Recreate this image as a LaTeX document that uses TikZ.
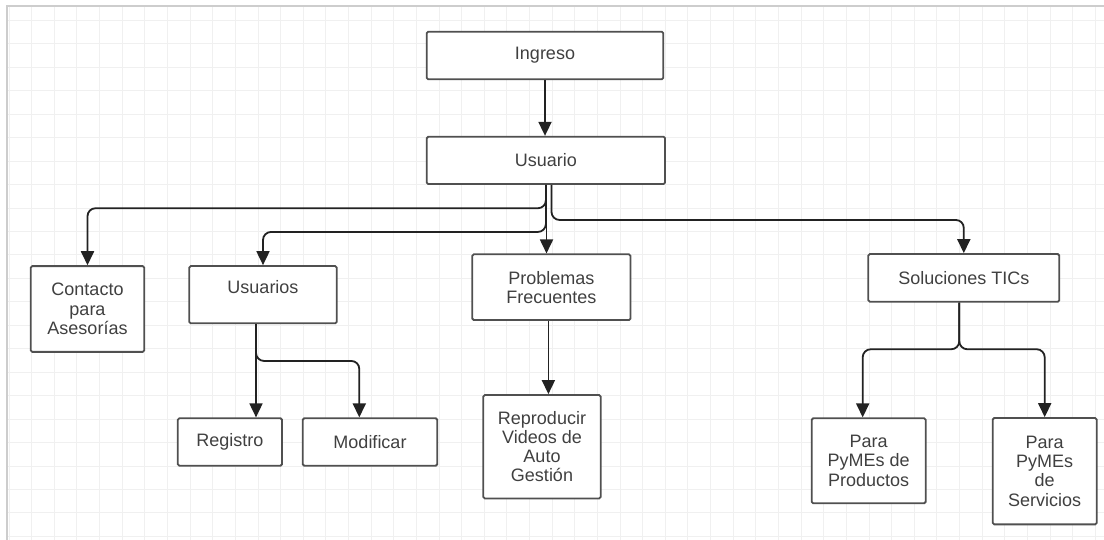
\documentclass[tikz,border=0pt]{standalone}
\usepackage{fontspec}
\setmainfont{Liberation Sans}
\usetikzlibrary{arrows.meta,calc}

\definecolor{gridc}{HTML}{F0F0F0}
\definecolor{framec}{HTML}{CDCDCD}
\definecolor{boxc}{HTML}{505050}
\definecolor{txtc}{HTML}{404040}
\definecolor{linec}{HTML}{222222}

\newcommand{\boxfont}{\fontsize{18}{19.2}\selectfont}

\tikzset{
  gridline/.style={draw=gridc, line width=1pt},
  frameline/.style={draw=framec, line width=2pt},
  box/.style={draw=boxc, line width=1.8pt, rounded corners=1.5pt, fill=white,
    text=txtc, align=center, inner sep=0pt, font=\boxfont},
  conn/.style={draw=linec, line width=1.8pt, rounded corners=8pt,
    -{Triangle[length=14pt,width=13pt]}}
}

\begin{document}
\begin{tikzpicture}[x=1pt,y=-1pt]
\useasboundingbox (0,0) rectangle (1104,540);
\fill[white] (0,0) rectangle (1104,540);

% background grid and canvas frame
\begin{scope}
  \clip (6.5,6.5) rectangle (1104,540);
  \foreach \i in {0,...,48}
    \draw[gridline] ({9.07+22.63*\i},0) -- ({9.07+22.63*\i},540);
  \foreach \j in {0,...,22}
    \draw[gridline] (0,{20.5+23.45*\j}) -- (1104,{20.5+23.45*\j});
\end{scope}
\draw[frameline] (6.5,540) -- (6.5,6.5) -- (1104,6.5);

% boxes
\node[box, minimum width=236.6pt, minimum height=47.6pt] (ingreso) at (545,55.5) {Ingreso};
\node[box, minimum width=238.3pt, minimum height=47.3pt] (usuario) at (545.9,160.4) {Usuario};
\node[box, minimum width=113.6pt, minimum height=85.7pt] (contacto) at (87.5,309) {Contacto\\para\\Asesorías};
\node[box, minimum width=147.4pt, minimum height=57.3pt] (usrs) at (263,294.7) {\strut\smash{\raisebox{5.5pt}{Usuarios}}};
\node[box, minimum width=158.2pt, minimum height=65.7pt] (prob) at (551.4,287.2) {Problemas\\Frecuentes};
\node[box, minimum width=191pt, minimum height=47.7pt] (solu) at (963.8,277.9) {Soluciones TICs};
\node[box, minimum width=104.3pt, minimum height=47.4pt] (reg) at (229.9,442) {Registro};
\node[box, minimum width=134.6pt, minimum height=47.4pt] (modif) at (370,442) {Modificar};
\node[box, minimum width=117.4pt, minimum height=103.5pt] (repro) at (542,446.75) {Reproducir\\Videos de\\Auto\\Gestión};
\node[box, minimum width=114pt, minimum height=85pt] (prod) at (868.7,460.8) {Para\\PyMEs de\\Productos};
\node[box, minimum width=104pt, minimum height=106.3pt] (serv) at (1044.7,471.2) {Para\\PyMEs\\de\\Servicios};

% connectors
\draw[conn] (ingreso.south) -- (ingreso.south |- usuario.north);
\draw[conn] (usuario.south) -- ++(0,23.3) -| (contacto.north);
\draw[conn] (usuario.south) -- ++(0,47) -| (usrs.north);
\draw[conn] ([xshift=0.6pt]usuario.south) -- ([xshift=0.6pt]usuario.south |- prob.north);
\draw[conn] ([xshift=5.6pt]usuario.south) -- ++(0,35) -| (solu.north);
\draw[conn] ([xshift=-7pt]usrs.south) -- ([xshift=-7pt]usrs.south |- reg.north);
\draw[conn] ([xshift=-7pt]usrs.south) -- ++(0,36.7) -| ([xshift=-10.7pt]modif.north);
\draw[conn] ([xshift=-3pt]prob.south) -- ([xshift=-3pt]prob.south |- repro.north);
\draw[conn] ([xshift=-4.5pt]solu.south) -- ++(0,46.6) -| ([xshift=-6pt]prod.north);
\draw[conn] ([xshift=-4.5pt]solu.south) -- ++(0,46.6) -| (serv.north);
\end{tikzpicture}
\end{document}
